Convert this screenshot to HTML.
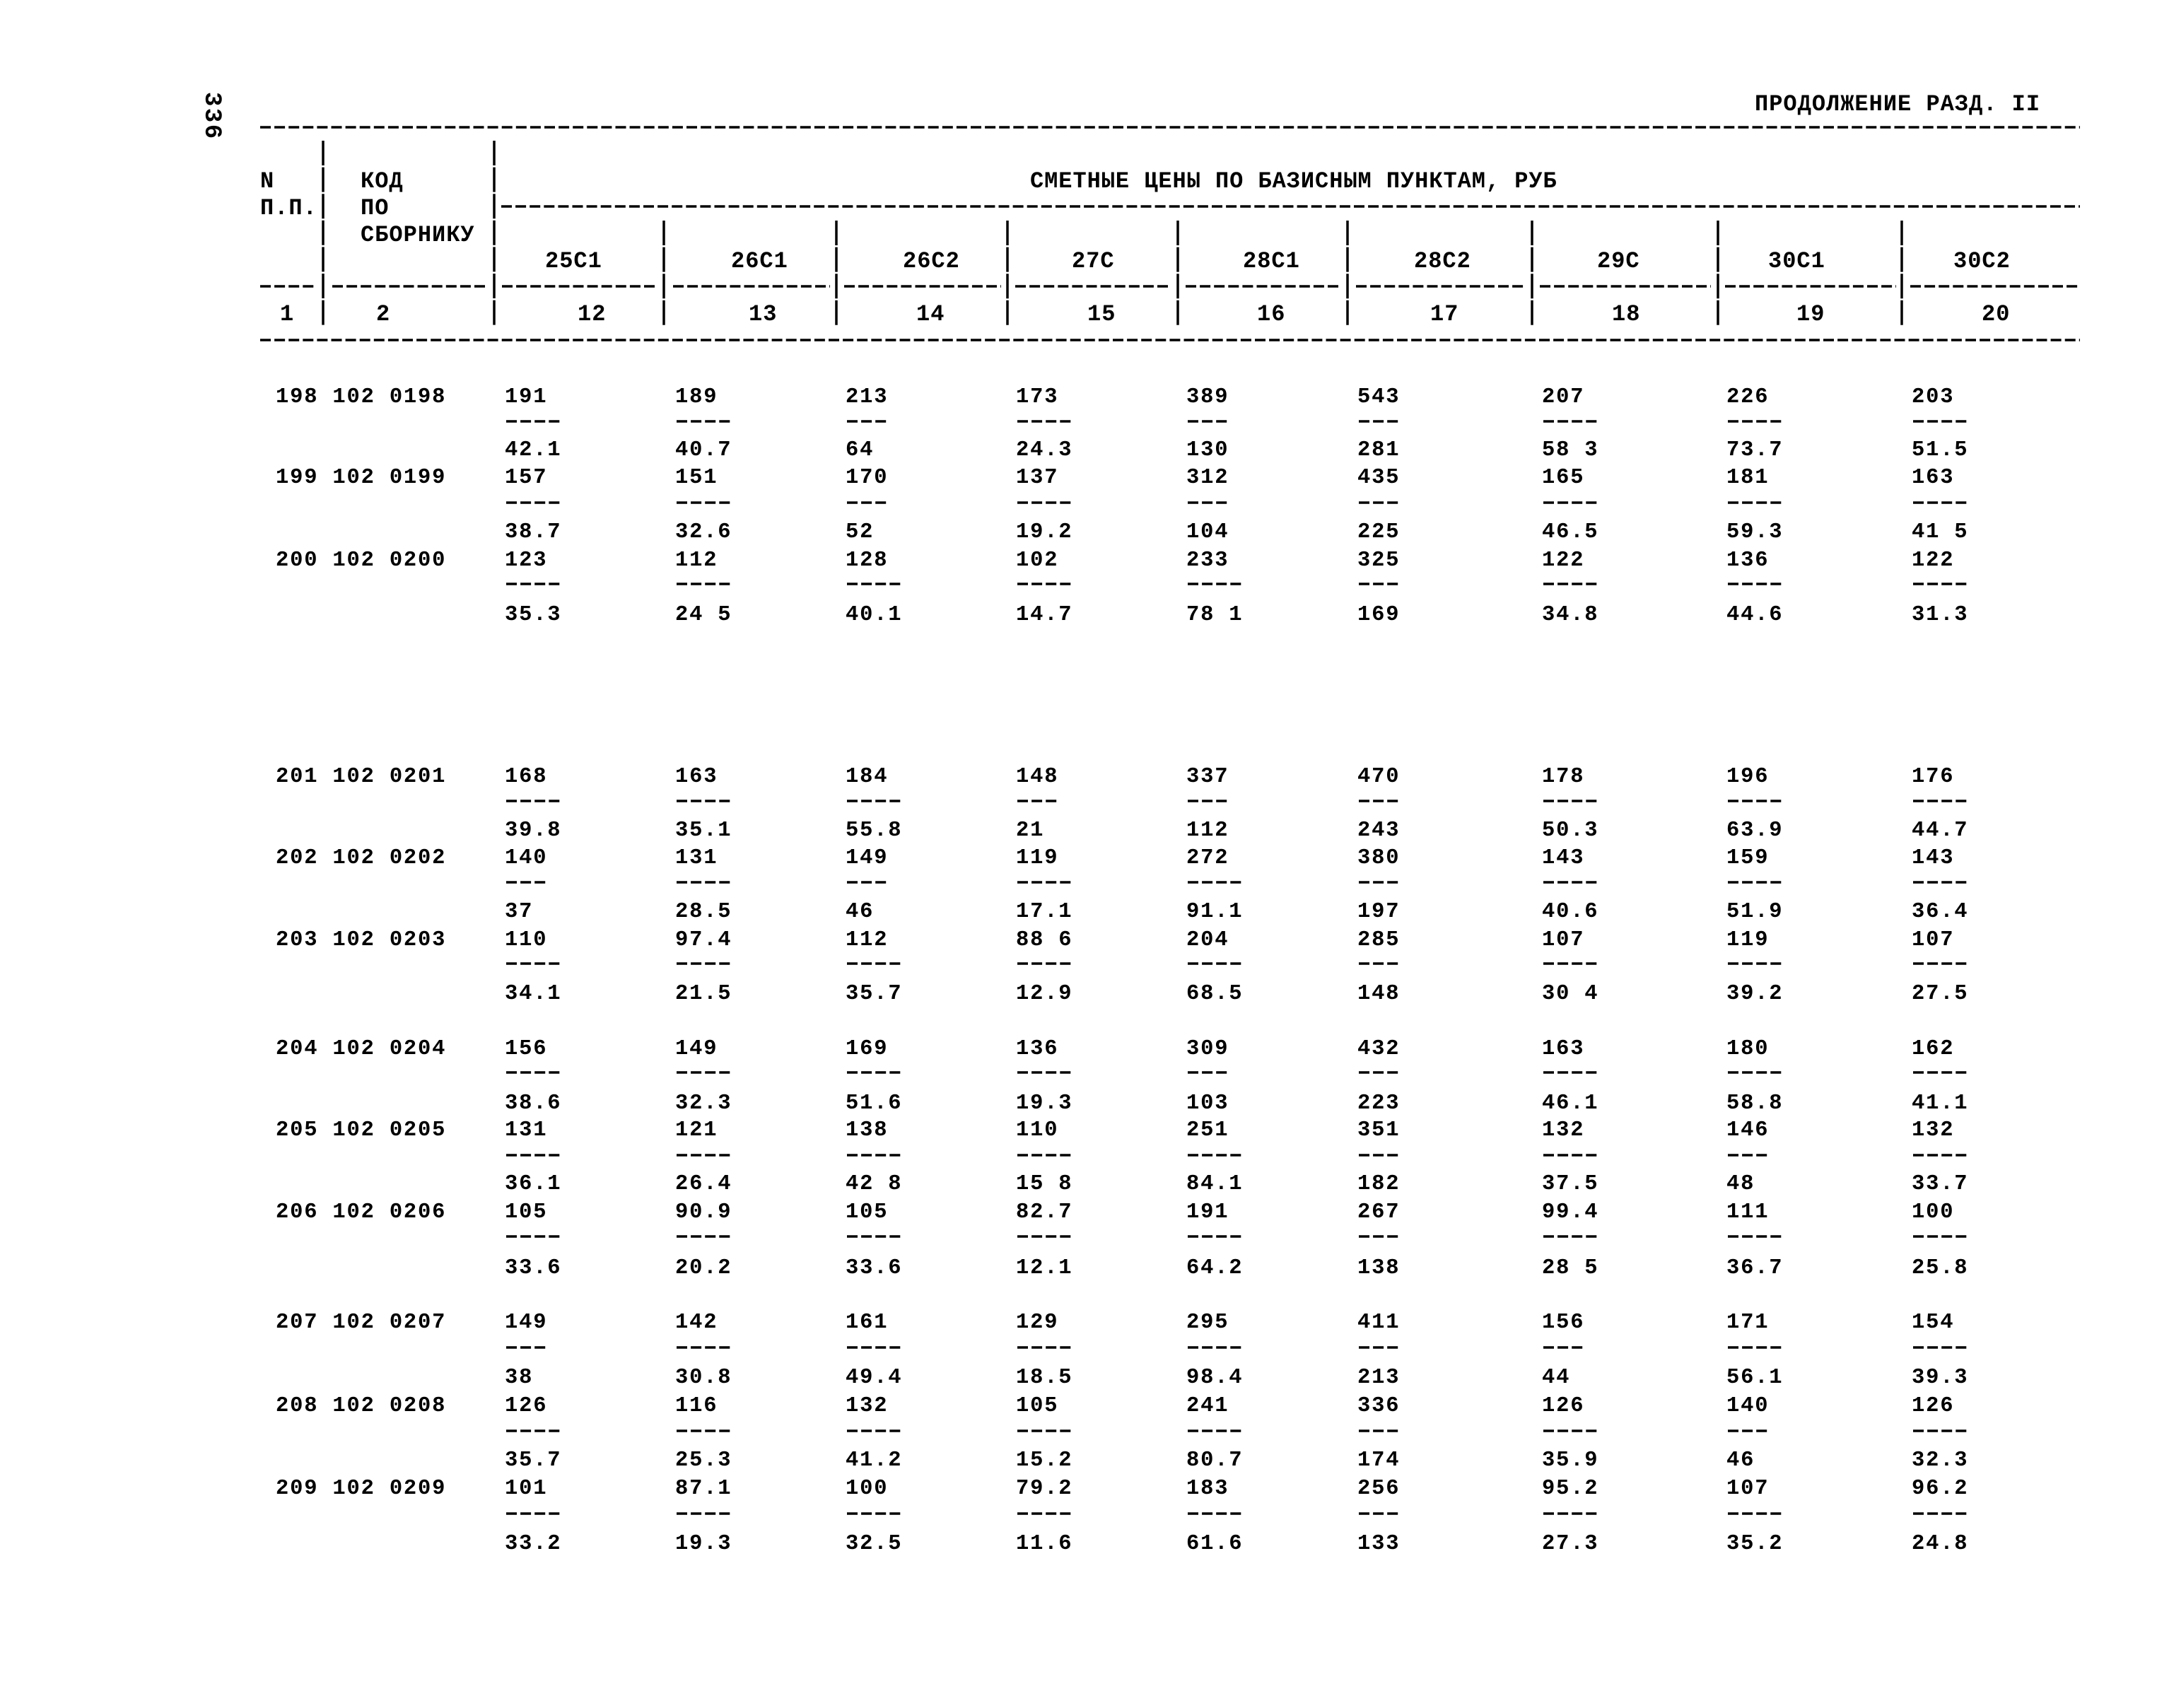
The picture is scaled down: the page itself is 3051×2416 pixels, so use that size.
<!DOCTYPE html>
<html><head><meta charset="utf-8">
<style>
html,body{margin:0;padding:0;background:#fff;}
svg{display:block;}
text{font-family:"Liberation Mono","DejaVu Sans Mono",monospace;font-weight:bold;fill:#000;}
.d{font-size:30.5px;letter-spacing:1.8px;}
.h{font-size:32px;letter-spacing:1px;}
.hw{font-size:32px;letter-spacing:0.95px;}
.ln{stroke:#000;stroke-width:3.5;stroke-dasharray:15 5.1;fill:none;}
.br{stroke:#000;stroke-width:3.5;stroke-dasharray:35 2.6;fill:none;}
</style></head>
<body>
<svg width="3051" height="2416" viewBox="0 0 3051 2416" xmlns="http://www.w3.org/2000/svg">
<defs>
<g id="d4"><rect x="0" y="-1.75" width="15" height="3.5"/><rect x="20.1" y="-1.75" width="15" height="3.5"/><rect x="40.2" y="-1.75" width="15" height="3.5"/><rect x="60.3" y="-1.75" width="15" height="3.5"/></g>
<g id="d3"><rect x="0" y="-1.75" width="15" height="3.5"/><rect x="20.1" y="-1.75" width="15" height="3.5"/><rect x="40.2" y="-1.75" width="15" height="3.5"/></g>
</defs>
<rect x="0" y="0" width="3051" height="2416" fill="#fff"/>

<!-- page number rotated -->
<text transform="translate(291,130) rotate(90)" style="font-size:34px;letter-spacing:2.5px;">336</text>

<text class="h" x="2482" y="156">ПРОДОЛЖЕНИЕ РАЗД. II</text>

<!-- header rules -->
<line class="ln" x1="368" y1="180" x2="2942" y2="180"/>
<line class="ln" x1="709" y1="292" x2="2942" y2="292"/>
<line class="ln" x1="368" y1="481" x2="2942" y2="481"/>
<line class="ln" x1="368" y1="405" x2="448" y2="405"/>
<line class="ln" x1="470" y1="405" x2="690" y2="405"/>
<line class="ln" x1="710" y1="405" x2="931" y2="405"/>
<line class="ln" x1="952" y1="405" x2="1174" y2="405"/>
<line class="ln" x1="1194" y1="405" x2="1416" y2="405"/>
<line class="ln" x1="1436" y1="405" x2="1657" y2="405"/>
<line class="ln" x1="1677" y1="405" x2="1898" y2="405"/>
<line class="ln" x1="1918" y1="405" x2="2158" y2="405"/>
<line class="ln" x1="2178" y1="405" x2="2420" y2="405"/>
<line class="ln" x1="2440" y1="405" x2="2682" y2="405"/>
<line class="ln" x1="2702" y1="405" x2="2942" y2="405"/>

<!-- vertical bars -->
<line class="br" x1="457" y1="199" x2="457" y2="460"/>
<line class="br" x1="699" y1="199" x2="699" y2="460"/>
<line class="br" x1="939" y1="312" x2="939" y2="460"/>
<line class="br" x1="1183" y1="312" x2="1183" y2="460"/>
<line class="br" x1="1425" y1="312" x2="1425" y2="460"/>
<line class="br" x1="1666" y1="312" x2="1666" y2="460"/>
<line class="br" x1="1906" y1="312" x2="1906" y2="460"/>
<line class="br" x1="2167" y1="312" x2="2167" y2="460"/>
<line class="br" x1="2430" y1="312" x2="2430" y2="460"/>
<line class="br" x1="2690" y1="312" x2="2690" y2="460"/>

<!-- header text -->
<text class="h" x="368" y="265">N</text>
<text class="h" x="368" y="303">П.П.</text>
<text class="h" x="510" y="265">КОД</text>
<text class="h" x="510" y="303">ПО</text>
<text class="h" x="510" y="341">СБОРНИКУ</text>
<text class="hw" x="1457" y="265">СМЕТНЫЕ ЦЕНЫ ПО БАЗИСНЫМ ПУНКТАМ, РУБ</text>

<text class="h" y="378"><tspan x="771">25С1</tspan><tspan x="1034">26С1</tspan><tspan x="1277">26С2</tspan><tspan x="1516">27С</tspan><tspan x="1758">28С1</tspan><tspan x="2000">28С2</tspan><tspan x="2259">29С</tspan><tspan x="2501">30С1</tspan><tspan x="2763">30С2</tspan></text>
<text class="h" y="453"><tspan x="396">1</tspan><tspan x="532">2</tspan><tspan x="817">12</tspan><tspan x="1059">13</tspan><tspan x="1296">14</tspan><tspan x="1538">15</tspan><tspan x="1778">16</tspan><tspan x="2023">17</tspan><tspan x="2280">18</tspan><tspan x="2541">19</tspan><tspan x="2803">20</tspan></text>

<!-- ===== DATA ===== -->
<!-- 198 -->
<text class="d" y="569"><tspan x="390">198 102 0198</tspan><tspan x="714">191</tspan><tspan x="955">189</tspan><tspan x="1196">213</tspan><tspan x="1437">173</tspan><tspan x="1678">389</tspan><tspan x="1920">543</tspan><tspan x="2181">207</tspan><tspan x="2442">226</tspan><tspan x="2704">203</tspan></text>
<use href="#d4" x="716" y="596"/><use href="#d4" x="957" y="596"/><use href="#d3" x="1198" y="596"/><use href="#d4" x="1439" y="596"/><use href="#d3" x="1680" y="596"/><use href="#d3" x="1922" y="596"/><use href="#d4" x="2183" y="596"/><use href="#d4" x="2444" y="596"/><use href="#d4" x="2706" y="596"/>
<text class="d" y="644"><tspan x="714">42.1</tspan><tspan x="955">40.7</tspan><tspan x="1196">64</tspan><tspan x="1437">24.3</tspan><tspan x="1678">130</tspan><tspan x="1920">281</tspan><tspan x="2181">58 3</tspan><tspan x="2442">73.7</tspan><tspan x="2704">51.5</tspan></text>

<!-- 199 -->
<text class="d" y="683"><tspan x="390">199 102 0199</tspan><tspan x="714">157</tspan><tspan x="955">151</tspan><tspan x="1196">170</tspan><tspan x="1437">137</tspan><tspan x="1678">312</tspan><tspan x="1920">435</tspan><tspan x="2181">165</tspan><tspan x="2442">181</tspan><tspan x="2704">163</tspan></text>
<use href="#d4" x="716" y="711"/><use href="#d4" x="957" y="711"/><use href="#d3" x="1198" y="711"/><use href="#d4" x="1439" y="711"/><use href="#d3" x="1680" y="711"/><use href="#d3" x="1922" y="711"/><use href="#d4" x="2183" y="711"/><use href="#d4" x="2444" y="711"/><use href="#d4" x="2706" y="711"/>
<text class="d" y="760"><tspan x="714">38.7</tspan><tspan x="955">32.6</tspan><tspan x="1196">52</tspan><tspan x="1437">19.2</tspan><tspan x="1678">104</tspan><tspan x="1920">225</tspan><tspan x="2181">46.5</tspan><tspan x="2442">59.3</tspan><tspan x="2704">41 5</tspan></text>

<!-- 200 -->
<text class="d" y="800"><tspan x="390">200 102 0200</tspan><tspan x="714">123</tspan><tspan x="955">112</tspan><tspan x="1196">128</tspan><tspan x="1437">102</tspan><tspan x="1678">233</tspan><tspan x="1920">325</tspan><tspan x="2181">122</tspan><tspan x="2442">136</tspan><tspan x="2704">122</tspan></text>
<use href="#d4" x="716" y="826"/><use href="#d4" x="957" y="826"/><use href="#d4" x="1198" y="826"/><use href="#d4" x="1439" y="826"/><use href="#d4" x="1680" y="826"/><use href="#d3" x="1922" y="826"/><use href="#d4" x="2183" y="826"/><use href="#d4" x="2444" y="826"/><use href="#d4" x="2706" y="826"/>
<text class="d" y="877"><tspan x="714">35.3</tspan><tspan x="955">24 5</tspan><tspan x="1196">40.1</tspan><tspan x="1437">14.7</tspan><tspan x="1678">78 1</tspan><tspan x="1920">169</tspan><tspan x="2181">34.8</tspan><tspan x="2442">44.6</tspan><tspan x="2704">31.3</tspan></text>

<!-- 201 -->
<text class="d" y="1106"><tspan x="390">201 102 0201</tspan><tspan x="714">168</tspan><tspan x="955">163</tspan><tspan x="1196">184</tspan><tspan x="1437">148</tspan><tspan x="1678">337</tspan><tspan x="1920">470</tspan><tspan x="2181">178</tspan><tspan x="2442">196</tspan><tspan x="2704">176</tspan></text>
<use href="#d4" x="716" y="1133"/><use href="#d4" x="957" y="1133"/><use href="#d4" x="1198" y="1133"/><use href="#d3" x="1439" y="1133"/><use href="#d3" x="1680" y="1133"/><use href="#d3" x="1922" y="1133"/><use href="#d4" x="2183" y="1133"/><use href="#d4" x="2444" y="1133"/><use href="#d4" x="2706" y="1133"/>
<text class="d" y="1182"><tspan x="714">39.8</tspan><tspan x="955">35.1</tspan><tspan x="1196">55.8</tspan><tspan x="1437">21</tspan><tspan x="1678">112</tspan><tspan x="1920">243</tspan><tspan x="2181">50.3</tspan><tspan x="2442">63.9</tspan><tspan x="2704">44.7</tspan></text>

<!-- 202 -->
<text class="d" y="1221"><tspan x="390">202 102 0202</tspan><tspan x="714">140</tspan><tspan x="955">131</tspan><tspan x="1196">149</tspan><tspan x="1437">119</tspan><tspan x="1678">272</tspan><tspan x="1920">380</tspan><tspan x="2181">143</tspan><tspan x="2442">159</tspan><tspan x="2704">143</tspan></text>
<use href="#d3" x="716" y="1248"/><use href="#d4" x="957" y="1248"/><use href="#d3" x="1198" y="1248"/><use href="#d4" x="1439" y="1248"/><use href="#d4" x="1680" y="1248"/><use href="#d3" x="1922" y="1248"/><use href="#d4" x="2183" y="1248"/><use href="#d4" x="2444" y="1248"/><use href="#d4" x="2706" y="1248"/>
<text class="d" y="1297"><tspan x="714">37</tspan><tspan x="955">28.5</tspan><tspan x="1196">46</tspan><tspan x="1437">17.1</tspan><tspan x="1678">91.1</tspan><tspan x="1920">197</tspan><tspan x="2181">40.6</tspan><tspan x="2442">51.9</tspan><tspan x="2704">36.4</tspan></text>

<!-- 203 -->
<text class="d" y="1337"><tspan x="390">203 102 0203</tspan><tspan x="714">110</tspan><tspan x="955">97.4</tspan><tspan x="1196">112</tspan><tspan x="1437">88 6</tspan><tspan x="1678">204</tspan><tspan x="1920">285</tspan><tspan x="2181">107</tspan><tspan x="2442">119</tspan><tspan x="2704">107</tspan></text>
<use href="#d4" x="716" y="1363"/><use href="#d4" x="957" y="1363"/><use href="#d4" x="1198" y="1363"/><use href="#d4" x="1439" y="1363"/><use href="#d4" x="1680" y="1363"/><use href="#d3" x="1922" y="1363"/><use href="#d4" x="2183" y="1363"/><use href="#d4" x="2444" y="1363"/><use href="#d4" x="2706" y="1363"/>
<text class="d" y="1413"><tspan x="714">34.1</tspan><tspan x="955">21.5</tspan><tspan x="1196">35.7</tspan><tspan x="1437">12.9</tspan><tspan x="1678">68.5</tspan><tspan x="1920">148</tspan><tspan x="2181">30 4</tspan><tspan x="2442">39.2</tspan><tspan x="2704">27.5</tspan></text>

<!-- 204 -->
<text class="d" y="1491"><tspan x="390">204 102 0204</tspan><tspan x="714">156</tspan><tspan x="955">149</tspan><tspan x="1196">169</tspan><tspan x="1437">136</tspan><tspan x="1678">309</tspan><tspan x="1920">432</tspan><tspan x="2181">163</tspan><tspan x="2442">180</tspan><tspan x="2704">162</tspan></text>
<use href="#d4" x="716" y="1517"/><use href="#d4" x="957" y="1517"/><use href="#d4" x="1198" y="1517"/><use href="#d4" x="1439" y="1517"/><use href="#d3" x="1680" y="1517"/><use href="#d3" x="1922" y="1517"/><use href="#d4" x="2183" y="1517"/><use href="#d4" x="2444" y="1517"/><use href="#d4" x="2706" y="1517"/>
<text class="d" y="1568"><tspan x="714">38.6</tspan><tspan x="955">32.3</tspan><tspan x="1196">51.6</tspan><tspan x="1437">19.3</tspan><tspan x="1678">103</tspan><tspan x="1920">223</tspan><tspan x="2181">46.1</tspan><tspan x="2442">58.8</tspan><tspan x="2704">41.1</tspan></text>

<!-- 205 -->
<text class="d" y="1606"><tspan x="390">205 102 0205</tspan><tspan x="714">131</tspan><tspan x="955">121</tspan><tspan x="1196">138</tspan><tspan x="1437">110</tspan><tspan x="1678">251</tspan><tspan x="1920">351</tspan><tspan x="2181">132</tspan><tspan x="2442">146</tspan><tspan x="2704">132</tspan></text>
<use href="#d4" x="716" y="1634"/><use href="#d4" x="957" y="1634"/><use href="#d4" x="1198" y="1634"/><use href="#d4" x="1439" y="1634"/><use href="#d4" x="1680" y="1634"/><use href="#d3" x="1922" y="1634"/><use href="#d4" x="2183" y="1634"/><use href="#d3" x="2444" y="1634"/><use href="#d4" x="2706" y="1634"/>
<text class="d" y="1682"><tspan x="714">36.1</tspan><tspan x="955">26.4</tspan><tspan x="1196">42 8</tspan><tspan x="1437">15 8</tspan><tspan x="1678">84.1</tspan><tspan x="1920">182</tspan><tspan x="2181">37.5</tspan><tspan x="2442">48</tspan><tspan x="2704">33.7</tspan></text>

<!-- 206 -->
<text class="d" y="1722"><tspan x="390">206 102 0206</tspan><tspan x="714">105</tspan><tspan x="955">90.9</tspan><tspan x="1196">105</tspan><tspan x="1437">82.7</tspan><tspan x="1678">191</tspan><tspan x="1920">267</tspan><tspan x="2181">99.4</tspan><tspan x="2442">111</tspan><tspan x="2704">100</tspan></text>
<use href="#d4" x="716" y="1749"/><use href="#d4" x="957" y="1749"/><use href="#d4" x="1198" y="1749"/><use href="#d4" x="1439" y="1749"/><use href="#d4" x="1680" y="1749"/><use href="#d3" x="1922" y="1749"/><use href="#d4" x="2183" y="1749"/><use href="#d4" x="2444" y="1749"/><use href="#d4" x="2706" y="1749"/>
<text class="d" y="1801"><tspan x="714">33.6</tspan><tspan x="955">20.2</tspan><tspan x="1196">33.6</tspan><tspan x="1437">12.1</tspan><tspan x="1678">64.2</tspan><tspan x="1920">138</tspan><tspan x="2181">28 5</tspan><tspan x="2442">36.7</tspan><tspan x="2704">25.8</tspan></text>

<!-- 207 -->
<text class="d" y="1878"><tspan x="390">207 102 0207</tspan><tspan x="714">149</tspan><tspan x="955">142</tspan><tspan x="1196">161</tspan><tspan x="1437">129</tspan><tspan x="1678">295</tspan><tspan x="1920">411</tspan><tspan x="2181">156</tspan><tspan x="2442">171</tspan><tspan x="2704">154</tspan></text>
<use href="#d3" x="716" y="1906"/><use href="#d4" x="957" y="1906"/><use href="#d4" x="1198" y="1906"/><use href="#d4" x="1439" y="1906"/><use href="#d4" x="1680" y="1906"/><use href="#d3" x="1922" y="1906"/><use href="#d3" x="2183" y="1906"/><use href="#d4" x="2444" y="1906"/><use href="#d4" x="2706" y="1906"/>
<text class="d" y="1956"><tspan x="714">38</tspan><tspan x="955">30.8</tspan><tspan x="1196">49.4</tspan><tspan x="1437">18.5</tspan><tspan x="1678">98.4</tspan><tspan x="1920">213</tspan><tspan x="2181">44</tspan><tspan x="2442">56.1</tspan><tspan x="2704">39.3</tspan></text>

<!-- 208 -->
<text class="d" y="1996"><tspan x="390">208 102 0208</tspan><tspan x="714">126</tspan><tspan x="955">116</tspan><tspan x="1196">132</tspan><tspan x="1437">105</tspan><tspan x="1678">241</tspan><tspan x="1920">336</tspan><tspan x="2181">126</tspan><tspan x="2442">140</tspan><tspan x="2704">126</tspan></text>
<use href="#d4" x="716" y="2024"/><use href="#d4" x="957" y="2024"/><use href="#d4" x="1198" y="2024"/><use href="#d4" x="1439" y="2024"/><use href="#d4" x="1680" y="2024"/><use href="#d3" x="1922" y="2024"/><use href="#d4" x="2183" y="2024"/><use href="#d3" x="2444" y="2024"/><use href="#d4" x="2706" y="2024"/>
<text class="d" y="2073"><tspan x="714">35.7</tspan><tspan x="955">25.3</tspan><tspan x="1196">41.2</tspan><tspan x="1437">15.2</tspan><tspan x="1678">80.7</tspan><tspan x="1920">174</tspan><tspan x="2181">35.9</tspan><tspan x="2442">46</tspan><tspan x="2704">32.3</tspan></text>

<!-- 209 -->
<text class="d" y="2113"><tspan x="390">209 102 0209</tspan><tspan x="714">101</tspan><tspan x="955">87.1</tspan><tspan x="1196">100</tspan><tspan x="1437">79.2</tspan><tspan x="1678">183</tspan><tspan x="1920">256</tspan><tspan x="2181">95.2</tspan><tspan x="2442">107</tspan><tspan x="2704">96.2</tspan></text>
<use href="#d4" x="716" y="2141"/><use href="#d4" x="957" y="2141"/><use href="#d4" x="1198" y="2141"/><use href="#d4" x="1439" y="2141"/><use href="#d4" x="1680" y="2141"/><use href="#d3" x="1922" y="2141"/><use href="#d4" x="2183" y="2141"/><use href="#d4" x="2444" y="2141"/><use href="#d4" x="2706" y="2141"/>
<text class="d" y="2191"><tspan x="714">33.2</tspan><tspan x="955">19.3</tspan><tspan x="1196">32.5</tspan><tspan x="1437">11.6</tspan><tspan x="1678">61.6</tspan><tspan x="1920">133</tspan><tspan x="2181">27.3</tspan><tspan x="2442">35.2</tspan><tspan x="2704">24.8</tspan></text>
</svg>
</body></html>
